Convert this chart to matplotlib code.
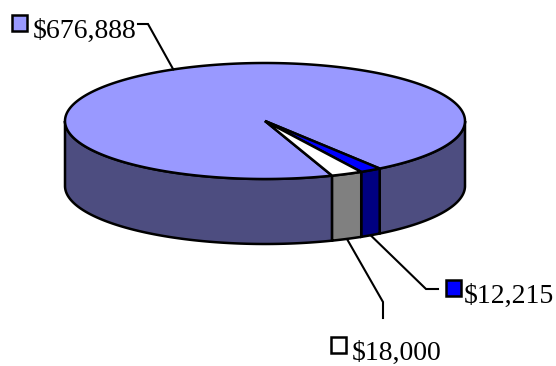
"""3D-style pie chart with callout labels (Excel look)."""

import numpy as np
import matplotlib
matplotlib.use("Agg")
import matplotlib.pyplot as plt
from matplotlib.patches import Polygon, Rectangle

# Slice data, in clockwise drawing order
labels = ["$676,888", "$12,215", "$18,000"]
values = [676888, 12215, 18000]
top_colors = ["#9999FF", "#0000FF", "#FFFFFF"]
side_colors = ["#4D4D80", "#000080", "#808080"]

# Layout (pixel space, y down)
CX, CY = 265, 121
A, B = 200, 58
DEPTH = 65
START = 70.4
LW = 1.8

# label placement: elbow, end of leader, key box, text origin
label_layout = {
    "$676,888": dict(elbow=(148, 24), end=(138, 24), box=(12, 15), text=(33, 38)),
    "$12,215": dict(elbow=(426, 289), end=(438, 289), box=(446, 280), text=(464, 303)),
    "$18,000": dict(elbow=(383, 302), end=(383, 318), box=(331, 337), text=(352, 360)),
}


def rim(t, drop=0.0):
    t = np.radians(t)
    return CX + A * np.cos(t), CY + B * np.sin(t) + drop


fig = plt.figure(figsize=(5.56, 3.66), dpi=100)
ax = fig.add_axes([0, 0, 1, 1])
ax.set_xlim(0, 556)
ax.set_ylim(366, 0)
ax.axis("off")

total = sum(values)
spans = [v / total * 360 for v in values]
bounds = []
t = START
for s in spans:
    bounds.append((t, t + s))
    t += s

# side walls (only the front half is visible)
for (t0, t1), sc in zip(bounds, side_colors):
    for k in (0, 360):
        lo, hi = max(t0, k), min(t1, k + 180)
        if hi <= lo:
            continue
        ts = np.linspace(lo, hi, 120)
        x, y = rim(ts)
        xb, yb = rim(ts[::-1], DEPTH)
        pts = np.column_stack([np.r_[x, xb], np.r_[y, yb]])
        ax.add_patch(Polygon(pts, closed=True, facecolor=sc, edgecolor="black",
                             lw=LW, joinstyle="miter", zorder=2))

# top face
for (t0, t1), tc in zip(bounds, top_colors):
    ts = np.linspace(t0, t1, max(int((t1 - t0) * 2), 10))
    x, y = rim(ts)
    pts = np.column_stack([np.r_[CX, x], np.r_[CY, y]])
    ax.add_patch(Polygon(pts, closed=True, facecolor=tc, edgecolor="black",
                         lw=LW, joinstyle="miter", zorder=3))

# leader lines, key boxes and labels
for (t0, t1), lab, tc in zip(bounds, labels, top_colors):
    mid = (t0 + t1) / 2 % 360
    front = 0 < mid < 180
    ax0, ay0 = rim(mid, DEPTH if front else 0.0)
    lay = label_layout[lab]
    xs = [ax0, lay["elbow"][0], lay["end"][0]]
    ys = [ay0, lay["elbow"][1], lay["end"][1]]
    ax.plot(xs, ys, color="black", lw=1.5, zorder=4 if not front else 1,
            solid_joinstyle="miter")
    bx, by = lay["box"]
    ax.add_patch(Rectangle((bx, by), 15, 16, facecolor=tc, edgecolor="black",
                           lw=1.8, zorder=5))
    ax.text(lay["text"][0], lay["text"][1], lab, fontsize=20,
            family="Liberation Serif", va="baseline", ha="left", zorder=5)

fig.savefig("out.png", dpi=100)
plt.close()
